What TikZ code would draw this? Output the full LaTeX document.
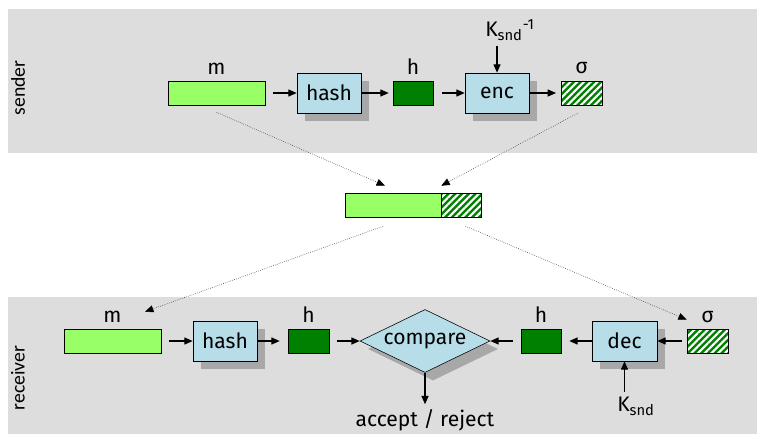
\documentclass[tikz,border=0pt]{standalone}
\usepackage{fontspec}
\setmainfont{Fira Sans}
\newfontfamily\sidefont{Carlito}
\usepackage{xcolor}
\definecolor{bandgray}{RGB}{221,221,221}
\definecolor{msggreen}{RGB}{153,255,102}
\definecolor{hashgreen}{RGB}{0,128,0}
\definecolor{boxblue}{RGB}{183,222,232}
\definecolor{shadowgray}{RGB}{168,168,168}
\usetikzlibrary{arrows.meta, positioning, shapes.geometric, shadows, patterns.meta}

\tikzset{
  msgbox/.style={draw=black, fill=msggreen, minimum width=2.425cm, minimum height=0.6cm, inner sep=0pt},
  hashbox/.style={draw=black, fill=hashgreen, minimum width=1.0cm, minimum height=0.6cm, inner sep=0pt},
  sigbox/.style={draw=black, preaction={fill=hashgreen}, pattern={Lines[angle=45,distance=3.4pt,line width=1.5pt]}, pattern color=white, minimum width=1.025cm, minimum height=0.6cm, inner sep=0pt},
  boxshadow/.style={drop shadow={shadow xshift=0.2cm, shadow yshift=-0.2cm, fill=shadowgray, opacity=1}},
  funcbox/.style={draw=black, fill=boxblue, minimum width=1.6cm, minimum height=1.0cm, inner sep=0pt, boxshadow},
  flow/.style={-{Triangle[length=6pt,width=5pt]}, line width=0.9pt},
  transfer/.style={-{Triangle[length=6pt,width=5pt,black]}, densely dotted, thin, draw=black!85},
  sidelbl/.style={font=\sidefont\fontsize{14}{16}\selectfont, rotate=90},
  toplbl/.style={label distance=1pt},
}

\begin{document}
\begin{tikzpicture}[font=\fontsize{15}{18}\selectfont]
  \useasboundingbox (0,0) rectangle (18.975,10.9);

  % Bands
  \fill[bandgray] (0.2,7.075) rectangle (18.925,10.675);
  \fill[bandgray] (0.2,0.05) rectangle (18.925,3.475);
  \node[sidelbl] (sndlbl) at (0.45,8.7) {sender};
  \node[sidelbl] (rcvlbl) at (0.45,1.45) {receiver};

  % --- Sender ---
  \node[msgbox, label={[toplbl]above:m}] (sm) at (5.4125,8.575) {};
  \node[funcbox] (shash) at (8.225,8.575) {hash};
  \node[hashbox, label={[toplbl]above:h}] (sh) at (10.325,8.575) {};
  \node[funcbox] (senc) at (12.425,8.575) {enc};
  \node[sigbox, label={[toplbl]above:σ}] (ssig) at (14.54,8.575) {};
  \node (kinv) at (12.75,10.15) {K\textsubscript{snd}\textsuperscript{-1}};

  \draw[flow, shorten <=0.2cm] (sm.east) -- (shash.west);
  \draw[flow, shorten >=0.1cm] (shash.east) -- (sh.west);
  \draw[flow, shorten <=0.22cm] (sh.east) -- (senc.west);
  \draw[flow, shorten >=0.1cm] (senc.east) -- (ssig.west);
  \draw[flow] (senc.north |- kinv.south) -- (senc.north);

  % --- Signed message ---
  \node[msgbox, minimum width=2.4cm] (mg) at (9.825,5.775) {};
  \node[sigbox, minimum width=1.0cm, right=0pt of mg] (mh) {};

  \draw[transfer] ([yshift=-0.175cm]sm.south) -- ([xshift=-0.2cm,yshift=0.175cm]mg.north);
  \draw[transfer] ([xshift=-0.09cm,yshift=-0.175cm]ssig.south) -- ([yshift=0.175cm]mg.north east);

  % --- Receiver ---
  \node[msgbox, label={[toplbl]above:m}] (rm) at (2.8125,2.375) {};
  \node[funcbox] (rhash) at (5.625,2.375) {hash};
  \node[hashbox, minimum width=1.025cm, label={[toplbl]above:h}] (rh1) at (7.7125,2.375) {};
  \node[draw=black, fill=boxblue, diamond, aspect=2.06, inner sep=0pt, minimum width=3.25cm, minimum height=1.575cm, boxshadow] (cmp) at (10.625,2.375) {compare};
  \node[hashbox, label={[toplbl]above:h}] (rh2) at (13.525,2.375) {};
  \node[funcbox, minimum width=1.625cm] (rdec) at (15.6125,2.375) {dec};
  \node[sigbox, label={[toplbl]above:σ}] (rsig) at (17.6875,2.375) {};
  \node (accept) at (10.625,0.4) {accept / reject};
  \node (ksnd) at (15.9,0.75) {K\textsubscript{snd}};

  \draw[flow, shorten <=0.2cm] (rm.east) -- (rhash.west);
  \draw[flow, shorten >=0.2cm] (rhash.east) -- (rh1.west);
  \draw[flow, shorten <=0.2cm] (rh1.east) -- (cmp.west);
  \draw[flow, shorten <=0.2cm] (rh2.west) -- (cmp.east);
  \draw[flow, shorten >=0.2cm] (rdec.west) -- (rh2.east);
  \draw[flow, shorten <=0.125cm] (rsig.west) -- (rdec.east);
  \draw[flow] (cmp.south) -- (accept.north);
  \draw[flow] (rdec.south |- ksnd.north) -- (rdec.south);

  \draw[transfer] ([xshift=-0.25cm,yshift=-0.225cm]mg.south) -- ([xshift=0.8125cm,yshift=0.425cm]rm.north);
  \draw[transfer] ([xshift=0.1cm,yshift=-0.225cm]mh.south) -- ([yshift=0.225cm]rsig.north west);
\end{tikzpicture}
\end{document}
